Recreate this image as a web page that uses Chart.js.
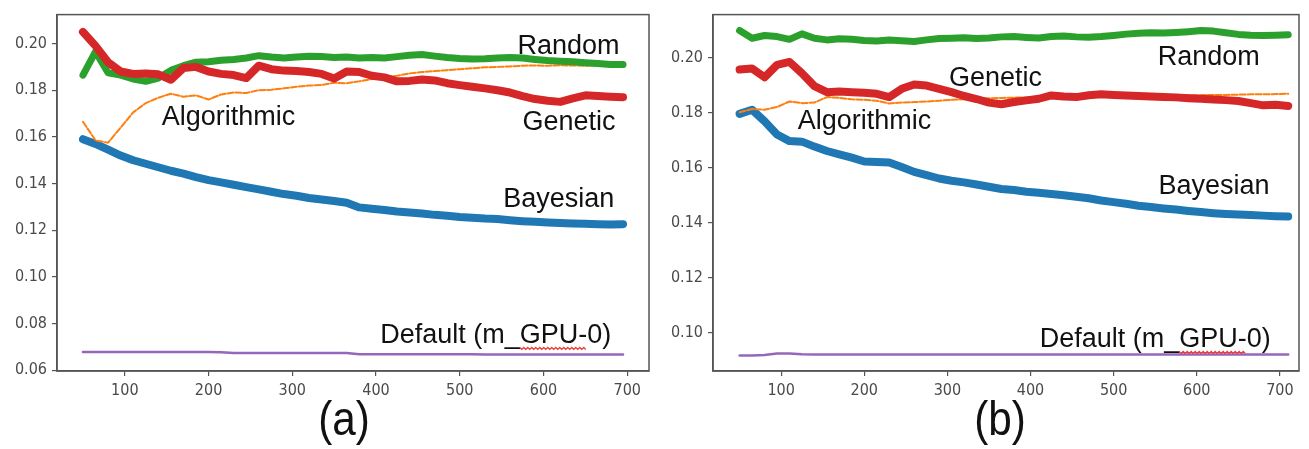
<!DOCTYPE html>
<html>
<head>
<meta charset="utf-8">
<script src="https://cdn.jsdelivr.net/npm/chart.js@4"></script>
<style>
html,body{margin:0;padding:0;background:#fff;overflow:hidden}
body{width:1309px;height:449px;position:relative}
canvas{position:absolute;top:0}
.cap{position:absolute;top:395px;font:48px/48px "Liberation Sans",Arial,sans-serif;color:#111;transform:translateX(-50%) scaleX(0.88);white-space:nowrap}
</style>
</head>
<body>
<canvas id="chartA" width="660" height="449" style="left:0"></canvas>
<canvas id="chartB" width="654" height="449" style="left:655px"></canvas>
<div class="cap" style="left:344px">(a)</div>
<div class="cap" style="left:1000px">(b)</div>
<script>
// iterations (x) and scores
const xA=[50,65,80,95,110,125,140,155,170,185,200,215,230,245,260,275,290,305,320,335,350,365,380,395,410,425,440,455,470,485,500,515,530,545,560,575,590,605,620,635,650,665,680,695]
const bayesA=[0.159,0.157,0.1545,0.152,0.150,0.1485,0.147,0.1455,0.1443,0.1428,
0.1415,0.1405,0.1395,0.1385,0.1375,0.1365,0.1355,0.1348,0.1338,0.1332,
0.1325,0.1318,0.1298,0.1292,0.1287,0.128,0.1276,0.1272,0.1266,0.1262,
0.1257,0.1254,0.125,0.1248,0.1243,0.1239,0.1236,0.1233,0.1231,0.1229,
0.1228,0.1226,0.1225,0.1226]
const randomA=[0.1865,0.1965,0.1875,0.1865,0.1848,0.1838,0.1852,0.1885,0.1905,0.192,
0.1922,0.1928,0.1932,0.1938,0.1948,0.1942,0.1938,0.1942,0.1946,0.1944,
0.194,0.1942,0.1938,0.194,0.1938,0.1944,0.195,0.1953,0.1946,0.194,
0.1936,0.1934,0.1935,0.1938,0.194,0.1938,0.1932,0.1927,0.1924,0.1922,
0.1918,0.1914,0.191,0.191]
const geneticA=[0.205,0.199,0.192,0.188,0.187,0.1872,0.1868,0.1845,0.1895,0.19,
0.188,0.187,0.1865,0.1852,0.1905,0.189,0.1884,0.1882,0.1878,0.187,
0.185,0.188,0.1878,0.1862,0.1855,0.1838,0.184,0.1846,0.1842,0.183,
0.1822,0.1815,0.1808,0.18,0.179,0.1775,0.1762,0.1755,0.175,0.1765,
0.1778,0.1775,0.1772,0.177]
const algoA=[0.1665,0.1585,0.1575,0.164,0.1705,0.1745,0.1768,0.1785,0.1772,0.1778,
0.176,0.1782,0.179,0.1788,0.18,0.1802,0.1808,0.1815,0.182,0.1822,
0.1832,0.183,0.1838,0.1848,0.1856,0.1862,0.1872,0.1878,0.1882,0.1886,
0.189,0.1894,0.1898,0.19,0.1902,0.1905,0.1906,0.1905,0.1907,0.1906,
0.1905,0.1907,0.1908,0.1908]
const defaultA=[0.0678,0.0678,0.0678,0.0678,0.0678,0.0678,0.0678,0.0678,0.0678,0.0678,
0.0678,0.0677,0.0674,0.0674,0.0674,0.0674,0.0674,0.0674,0.0674,0.0674,
0.0674,0.0674,0.0669,0.0669,0.0669,0.0669,0.0669,0.0669,0.0669,0.0669,
0.0669,0.0669,0.0668,0.0668,0.0668,0.0668,0.0668,0.0668,0.0668,0.0668,
0.0668,0.0668,0.0668,0.0668]

const xB=[50,65,80,95,110,125,140,155,170,185,200,215,230,245,260,275,290,305,320,335,350,365,380,395,410,425,440,455,470,485,500,515,530,545,560,575,590,605,620,635,650,665,680,695,710]
const bayesB=[0.1797,0.1812,0.177,0.1722,0.1698,0.1696,0.1678,0.1662,0.165,0.1638,
0.1624,0.1622,0.162,0.1604,0.1586,0.1574,0.1562,0.1554,0.1548,0.154,
0.1532,0.1524,0.152,0.1514,0.151,0.1506,0.1501,0.1496,0.149,0.1482,
0.1476,0.147,0.1463,0.1458,0.1453,0.1449,0.1444,0.144,0.1436,0.1433,
0.1431,0.1429,0.1427,0.1425,0.1424]
const randomB=[0.21,0.2072,0.2082,0.2078,0.2068,0.2088,0.2072,0.2066,0.207,0.2068,
0.2064,0.2062,0.2066,0.2063,0.206,0.2066,0.2071,0.2072,0.2074,0.2071,
0.2073,0.2077,0.2078,0.2075,0.2073,0.2078,0.208,0.2077,0.2076,0.2078,
0.2082,0.2087,0.209,0.2092,0.2091,0.2093,0.2096,0.21,0.2098,0.2092,
0.2086,0.2083,0.2082,0.2083,0.2085]
const geneticB=[0.1958,0.1962,0.193,0.1975,0.1986,0.1945,0.1898,0.1876,0.1878,0.1876,
0.1874,0.187,0.1858,0.1888,0.1904,0.19,0.1888,0.1876,0.1862,0.1851,
0.1838,0.1832,0.184,0.1846,0.1852,0.1864,0.186,0.1858,0.1865,0.1868,
0.1866,0.1864,0.1862,0.186,0.1858,0.1857,0.1854,0.1852,0.1849,0.1847,
0.1844,0.1836,0.1828,0.183,0.1826]
const algoB=[0.1803,0.1815,0.1812,0.1822,0.1842,0.1836,0.1838,0.1858,0.1855,0.185,
0.1848,0.1845,0.1835,0.1838,0.184,0.1842,0.1845,0.1848,0.185,0.1852,
0.1854,0.1855,0.1856,0.1857,0.1858,0.1858,0.1859,0.186,0.186,0.1861,
0.1862,0.1862,0.1863,0.1863,0.1864,0.1864,0.1865,0.1865,0.1866,0.1866,
0.1867,0.1868,0.1868,0.1869,0.187]
const defaultB=[0.0918,0.0918,0.092,0.0926,0.0926,0.0923,0.0922,0.0922,0.0922,0.0922,
0.0922,0.0922,0.0922,0.0922,0.0922,0.0922,0.0922,0.0922,0.0922,0.0922,
0.0922,0.0922,0.0922,0.0922,0.0922,0.0922,0.0922,0.0922,0.0922,0.0922,
0.0922,0.0922,0.0922,0.0922,0.0922,0.0922,0.0922,0.0922,0.0922,0.0922,
0.0922,0.0922,0.0922,0.0922,0.0922]

const xTicks=[100,200,300,400,500,600,700]
const yTicksA=[0.06,0.08,0.10,0.12,0.14,0.16,0.18,0.20]
const yTicksB=[0.10,0.12,0.14,0.16,0.18,0.20]

const tickFont={family:"'DejaVu Sans Condensed','DejaVu Sans',sans-serif",size:16}
const noteFont='27px "Liberation Sans", Arial, sans-serif'

const pts=(xs,ys)=>xs.map((x,i)=>({x:x,y:ys[i]}))

// frame box + text labels placed in data coordinates
const frame={
id:'frame',
afterDatasetsDraw(chart,args,opts){
const {ctx,chartArea:a,scales}=chart
ctx.save()
ctx.strokeStyle='#555'
ctx.lineWidth=1.5
ctx.strokeRect(a.left,a.top,a.width,a.height)
ctx.font=noteFont
ctx.fillStyle='#111'
ctx.textBaseline='alphabetic'
opts.notes.forEach(n=>{
let px=scales.x.getPixelForValue(n.x)
let py=scales.y.getPixelForValue(n.y)
ctx.fillText(n.text,px,py)
if(n.wavy){
let s=px+ctx.measureText(n.text.slice(0,n.text.indexOf('GPU'))).width
let e=s+ctx.measureText('GPU-').width
ctx.beginPath()
ctx.strokeStyle='#f03a30'
ctx.lineWidth=1.2
let up=true
for(let x=s;x<=e;x+=2){
let y=py+5+(up?-1:1)
if(x==s) ctx.moveTo(x,y); else ctx.lineTo(x,y)
up=!up
}
ctx.stroke()
}
})
ctx.restore()
}
}

function makeChart(id,o){
const line=(data,color,width,order,dash)=>({
data:data,borderColor:color,backgroundColor:color,borderWidth:width,
pointRadius:0,tension:0,order:order,borderDash:dash||[],
borderCapStyle:'round',borderJoinStyle:'round'
})
return new Chart(document.getElementById(id),{
type:'line',
data:{datasets:[
line(pts(o.x,o.genetic),'#d62728',8,1),
line(pts(o.x,o.random),'#2ca02c',7,2),
line(pts(o.x,o.algo),'#ff7f0e',2,3,[6,2]),
line(pts(o.x,o.bayes),'#1f77b4',8,4),
line(pts(o.x,o.def),'#9467bd',2.5,5)
]},
plugins:[frame],
options:{
responsive:false,
animation:false,
events:[],
layout:{padding:o.pad},
plugins:{legend:{display:false},tooltip:{enabled:false},frame:{notes:o.notes}},
scales:{
x:{
type:'linear',min:o.xmin,max:o.xmax,
afterBuildTicks:s=>{s.ticks=xTicks.map(v=>({value:v}))},
afterFit:s=>{s.height=78},
grid:{drawOnChartArea:false,tickLength:5,color:'#555',lineWidth:1.2},
border:{color:'#555',width:1.5},
ticks:{color:'#4a4a4a',font:tickFont,padding:5,maxRotation:0,callback:v=>v}
},
y:{
type:'linear',min:o.ymin,max:o.ymax,
afterBuildTicks:s=>{s.ticks=o.yTicks.map(v=>({value:v}))},
afterFit:s=>{s.width=o.yw},
grid:{drawOnChartArea:false,tickLength:5,color:'#555',lineWidth:1.2},
border:{color:'#555',width:1.5},
ticks:{color:'#4a4a4a',font:tickFont,padding:5,callback:v=>Number(v).toFixed(2)}
}
}
}
})
}

makeChart('chartA',{
x:xA,bayes:bayesA,random:randomA,genetic:geneticA,algo:algoA,def:defaultA,
xmin:19,xmax:726,ymin:0.0597,ymax:0.2124,yTicks:yTicksA,yw:57,
pad:{top:10,right:11,left:0,bottom:0},
notes:[
{text:'Random',x:569,y:0.1955},
{text:'Genetic',x:575,y:0.1629},
{text:'Algorithmic',x:144,y:0.165},
{text:'Bayesian',x:552,y:0.130},
{text:'Default (m_GPU-0)',x:405,y:0.0715,wavy:true}
]
})

makeChart('chartB',{
x:xB,bayes:bayesB,random:randomB,genetic:geneticB,algo:algoB,def:defaultB,
xmin:18,xmax:723,ymin:0.0862,ymax:0.2158,yTicks:yTicksB,yw:58,
pad:{top:9,right:10,left:0,bottom:0},
notes:[
{text:'Random',x:553,y:0.1976},
{text:'Genetic',x:302,y:0.190},
{text:'Algorithmic',x:120,y:0.1743},
{text:'Bayesian',x:554,y:0.1504},
{text:'Default (m_GPU-0)',x:411,y:0.0948,wavy:true}
]
})
</script>
</body>
</html>
